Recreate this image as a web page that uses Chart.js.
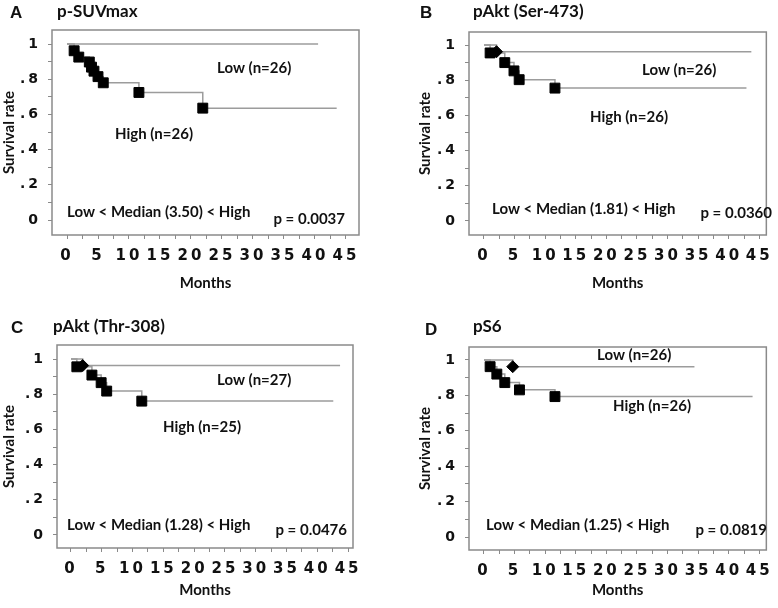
<!DOCTYPE html>
<html>
<head>
<meta charset="utf-8">
<script src="https://cdn.jsdelivr.net/npm/chart.js@4.4.0/dist/chart.umd.min.js"></script>
<style>
  html, body { margin: 0; padding: 0; background: #fff; }
  #wrap { position: relative; width: 778px; height: 608px; }
  #wrap canvas { position: absolute; left: 0; top: 0; }
</style>
</head>
<body>
<div id="wrap">
  <canvas id="km-a" width="778" height="608"></canvas>
  <canvas id="km-b" width="778" height="608"></canvas>
  <canvas id="km-c" width="778" height="608"></canvas>
  <canvas id="km-d" width="778" height="608"></canvas>
</div>
<script>
// tick labels
const monthTicks = [0, 5, 10, 15, 20, 25, 30, 35, 40, 45];
const monthMinor = [2.5, 7.5, 12.5, 17.5, 22.5, 27.5, 32.5, 37.5, 42.5];
const survTicks = [0, 0.2, 0.4, 0.6, 0.8, 1];
const survTickText = ['0', '.2', '.4', '.6', '.8', '1'];
const survMinor = [0.1, 0.3, 0.5, 0.7, 0.9];

// panel texts
const panelLetters = ['A', 'B', 'C', 'D'];
const panelTitles = ['p-SUVmax', 'pAkt (Ser-473)', 'pAkt (Thr-308)', 'pS6'];
const lowLabels = ['Low (n=26)', 'Low (n=26)', 'Low (n=27)', 'Low (n=26)'];
const highLabels = ['High (n=26)', 'High (n=26)', 'High (n=25)', 'High (n=26)'];
const medians = ['3.50', '1.81', '1.28', '1.25'];
const pValues = ['0.0037', '0.0360', '0.0476', '0.0819'];

// Kaplan-Meier curves (months, survival rate)
const lowA_months = [0, 40.5];
const lowA_surv = [1, 1];
const highA_months = [0, 1.15, 1.9, 3.6, 3.95, 4.35, 5.0, 5.85, 11.6, 21.9, 43.5];
const highA_surv = [1, 0.962, 0.926, 0.898, 0.869, 0.846, 0.815, 0.78, 0.725, 0.636, 0.636];

const lowB_months = [0, 2.05, 43.7];
const lowB_surv = [1, 0.962, 0.962];
const highB_months = [0, 1.0, 3.4, 4.9, 5.75, 11.6, 42.9];
const highB_surv = [1, 0.955, 0.9, 0.853, 0.803, 0.755, 0.755];

const lowC_months = [0, 1.9, 43.7];
const lowC_surv = [1, 0.963, 0.963];
const highC_months = [0, 0.95, 3.4, 4.9, 5.8, 11.5, 42.6];
const highC_surv = [1, 0.956, 0.909, 0.866, 0.818, 0.761, 0.761];

const lowD_months = [0, 4.7, 34.4];
const lowD_surv = [1, 0.962, 0.962];
const highD_months = [0, 1.0, 2.1, 3.4, 5.8, 11.6, 43.9];
const highD_surv = [1, 0.962, 0.92, 0.872, 0.831, 0.793, 0.793];

// where each panel sits on the page (pixels)
const panels = [
  { id: 'km-a', low: [lowA_months, lowA_surv], high: [highA_months, highA_surv],
    box: { l: 52, t: 30, r: 359, b: 235 }, xr: [-2.42, 47.1], yr: [-0.085, 1.08], yW: 52, xH: 57,
    letter: [10, 18], title: [57, 17], lowAt: [217, 68], highAt: [115, 134], medAt: [67, 212], pAt: [345, 219] },
  { id: 'km-b', low: [lowB_months, lowB_surv], high: [highB_months, highB_surv],
    box: { l: 469, t: 32, r: 767, b: 235 }, xr: [-2.45, 46.15], yr: [-0.08, 1.074], yW: 53, xH: 57,
    letter: [420, 18], title: [473, 17], lowAt: [642, 70], highAt: [590, 117], medAt: [492, 209], pAt: [772, 213] },
  { id: 'km-c', low: [lowC_months, lowC_surv], high: [highC_months, highC_surv],
    box: { l: 57, t: 345, r: 353, b: 548 }, xr: [-2.27, 45.8], yr: [-0.074, 1.08], yW: 57, xH: 51,
    letter: [11, 333], title: [53, 332], lowAt: [217, 380], highAt: [163, 427], medAt: [67, 525], pAt: [347, 530] },
  { id: 'km-d', low: [lowD_months, lowD_surv], high: [highD_months, highD_surv],
    box: { l: 469, t: 347, r: 767, b: 550 }, xr: [-2.45, 46.15], yr: [-0.073, 1.073], yW: 53, xH: 49,
    letter: [425, 335], title: [473, 332], lowAt: [597, 355], highAt: [613, 406], medAt: [486, 525], pAt: [767, 530] }
];

const W = 778, H = 608;
const lineGrey = '#9c9c9c';
const frameGrey = '#8a8a8a';
const labelFont = 'bold 15px Lato';

function kmSet(months, surv, shape, r) {
  const pts = months.map((m, i) => ({ x: m, y: surv[i] }));
  return {
    data: pts,
    stepped: 'before',
    borderColor: lineGrey,
    borderWidth: 1.5,
    fill: false,
    pointStyle: shape,
    pointRadius: c => (c.dataIndex === 0 || c.dataIndex === pts.length - 1) ? 0 : r,
    pointHoverRadius: 0,
    pointBackgroundColor: '#000',
    pointBorderColor: '#000',
    pointBorderWidth: 1
  };
}

// frame, letter-spaced tick labels, and the text inside each panel
const kmDecor = {
  id: 'kmDecor',
  beforeDatasetsDraw(chart) {
    const a = chart.chartArea, ctx = chart.ctx;
    ctx.save();
    ctx.strokeStyle = frameGrey;
    ctx.lineWidth = 1.5;
    ctx.strokeRect(a.left, a.top, a.right - a.left, a.bottom - a.top);
    ctx.restore();
  },
  afterDatasetsDraw(chart) {
    chart.ctx.letterSpacing = '3px';
  },
  afterDraw(chart, args, o) {
    const ctx = chart.ctx, p = o.panel, i = o.index;
    ctx.letterSpacing = '0px';
    ctx.save();
    ctx.fillStyle = '#111';
    ctx.textBaseline = 'alphabetic';
    ctx.textAlign = 'left';
    ctx.font = 'bold 17px "Liberation Sans"';
    ctx.fillText(panelLetters[i], p.letter[0], p.letter[1]);
    ctx.font = 'bold 17px Lato';
    ctx.fillText(panelTitles[i], p.title[0], p.title[1]);
    ctx.font = labelFont;
    ctx.textBaseline = 'middle';
    ctx.fillText(lowLabels[i], p.lowAt[0], p.lowAt[1]);
    ctx.fillText(highLabels[i], p.highAt[0], p.highAt[1]);
    ctx.fillText('Low < Median (' + medians[i] + ') < High', p.medAt[0], p.medAt[1]);
    ctx.textAlign = 'right';
    ctx.fillText('p = ' + pValues[i], p.pAt[0], p.pAt[1]);
    ctx.restore();
  }
};

function kmChart(p, index) {
  return new Chart(document.getElementById(p.id), {
    type: 'line',
    data: {
      datasets: [
        kmSet(p.low[0], p.low[1], 'rectRot', 6),
        kmSet(p.high[0], p.high[1], 'rect', 7)
      ]
    },
    options: {
      responsive: false,
      animation: false,
      events: [],
      layout: {
        padding: { left: p.box.l - p.yW, top: p.box.t, right: W - p.box.r, bottom: H - p.box.b - p.xH }
      },
      plugins: {
        legend: { display: false },
        tooltip: { enabled: false },
        kmDecor: { panel: p, index: index }
      },
      scales: {
        x: {
          type: 'linear',
          min: p.xr[0],
          max: p.xr[1],
          afterFit: s => { s.height = p.xH; },
          afterBuildTicks: s => { s.ticks = monthTicks.concat(monthMinor).sort((a, b) => a - b).map(v => ({ value: v })); },
          grid: { drawOnChartArea: false, tickLength: 4, color: frameGrey, lineWidth: 1 },
          border: { display: false },
          ticks: {
            z: 1,
            autoSkip: false,
            maxRotation: 0,
            padding: 8,
            color: '#111',
            font: { family: 'DejaVu Sans', weight: 'bold', size: 15 },
            callback: v => monthTicks.includes(v) ? String(v) : ''
          },
          title: { display: true, text: 'Months', color: '#111', padding: { top: 0, bottom: 0 },
                   font: { family: 'Lato', weight: 'bold', size: 15 } }
        },
        y: {
          min: p.yr[0],
          max: p.yr[1],
          afterFit: s => { s.width = p.yW; },
          afterBuildTicks: s => { s.ticks = survTicks.concat(survMinor).sort((a, b) => a - b).map(v => ({ value: v })); },
          grid: { drawOnChartArea: false, tickLength: 4, color: frameGrey, lineWidth: 1 },
          border: { display: false },
          ticks: {
            z: 1,
            autoSkip: false,
            padding: 7,
            color: '#111',
            font: { family: 'DejaVu Sans', weight: 'bold', size: 14 },
            callback: v => {
              const k = survTicks.findIndex(t => Math.abs(t - v) < 1e-6);
              return k < 0 ? '' : survTickText[k];
            }
          },
          title: { display: true, text: 'Survival rate', color: '#111', padding: { top: 0, bottom: 0 },
                   font: { family: 'Lato', weight: 'bold', size: 15 } }
        }
      }
    },
    plugins: [kmDecor]
  });
}

panels.forEach((p, i) => kmChart(p, i));
</script>
</body>
</html>
